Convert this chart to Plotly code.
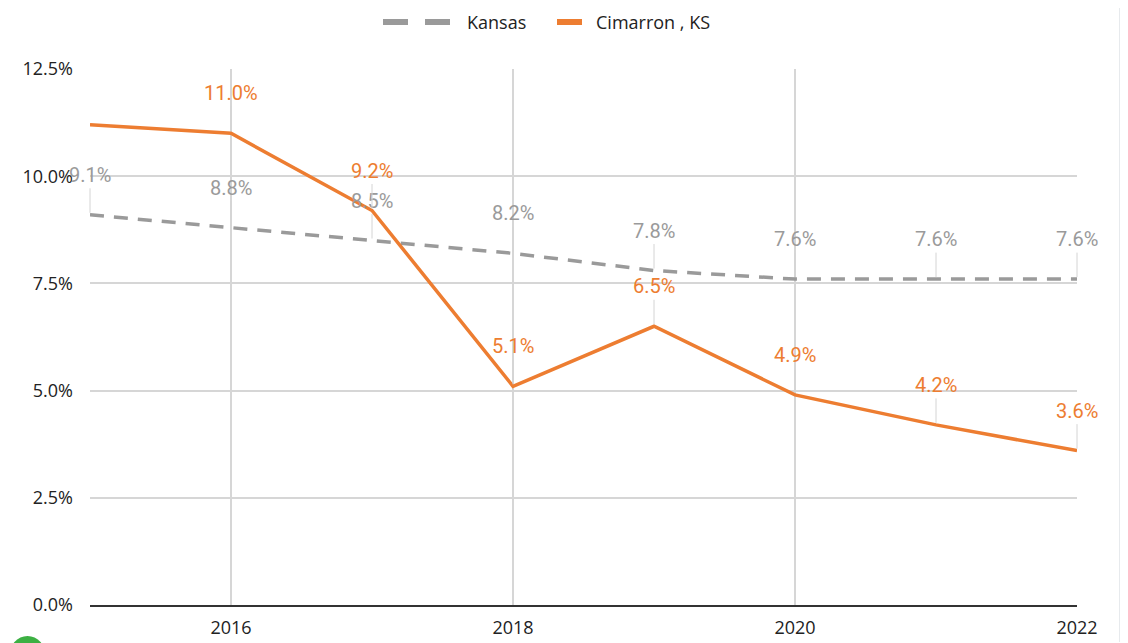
import plotly.graph_objects as go

years = [2015, 2016, 2017, 2018, 2019, 2020, 2021, 2022]
kansas = [9.1, 8.8, 8.5, 8.2, 7.8, 7.6, 7.6, 7.6]
cimarron = [11.2, 11.0, 9.2, 5.1, 6.5, 4.9, 4.2, 3.6]
cimarron_label_shown = [False, True, True, True, True, True, True, True]
y_ticks = [0, 2.5, 5, 7.5, 10, 12.5]
x_ticks = [2016, 2018, 2020, 2022]

GRAY = "#9a9a9a"
ORANGE = "#ED7D31"
LEADER = "#d4d4d4"

# page body has an 8px margin, so the figure is drawn offset by (8, 8)
OFF = 8
# desired plot-area pixel geometry on screen
L, R, T, B = 90, 1077, 69, 605
def px(xp):
    return (xp - L) / (R - L)
def py(yp):
    return (B - yp) / (B - T)

fig = go.Figure()
fig.add_trace(go.Scatter(x=years, y=kansas, mode="lines", name="Kansas",
                         line=dict(color=GRAY, width=3.5, dash="14px,10px"),
                         showlegend=False, hoverinfo="skip"))
fig.add_trace(go.Scatter(x=years, y=cimarron, mode="lines", name="Cimarron , KS",
                         line=dict(color=ORANGE, width=3.5),
                         showlegend=False, hoverinfo="skip"))

annots = []
lab_font = dict(family="Roboto, Open Sans, sans-serif", size=20)
for x, v in zip(years, kansas):
    annots.append(dict(x=x, y=v, xref="x", yref="y", text=f"{v:.1f}%",
                       showarrow=True, arrowhead=0, arrowwidth=1, arrowcolor=LEADER,
                       ax=0, ay=-40, standoff=2, font=dict(color=GRAY, **lab_font)))
for x, v, show in zip(years, cimarron, cimarron_label_shown):
    if not show:
        continue
    annots.append(dict(x=x, y=v, xref="x", yref="y", text=f"{v:.1f}%",
                       showarrow=True, arrowhead=0, arrowwidth=1, arrowcolor=LEADER,
                       ax=0, ay=-40, standoff=2, font=dict(color=ORANGE, **lab_font)))

# custom legend
leg_y = py(22)
leg_font = dict(family="Open Sans, sans-serif", size=18, color="#222222")
annots.append(dict(x=px(465), y=leg_y, xref="paper", yref="paper", text="Kansas",
                   showarrow=False, xanchor="left", yanchor="middle", font=leg_font))
annots.append(dict(x=px(594), y=leg_y, xref="paper", yref="paper", text="Cimarron , KS",
                   showarrow=False, xanchor="left", yanchor="middle", font=leg_font))

shapes = [
    dict(type="line", xref="paper", yref="paper", x0=px(383), x1=px(408), y0=leg_y, y1=leg_y,
         line=dict(color=GRAY, width=6)),
    dict(type="line", xref="paper", yref="paper", x0=px(425), x1=px(450), y0=leg_y, y1=leg_y,
         line=dict(color=GRAY, width=6)),
    dict(type="line", xref="paper", yref="paper", x0=px(557), x1=px(582), y0=leg_y, y1=leg_y,
         line=dict(color=ORANGE, width=6)),
    # right border of the frame
    dict(type="line", xref="paper", yref="paper", x0=px(1121), x1=px(1121), y0=py(8), y1=py(642),
         line=dict(color="#9eaab8", width=2.5), layer="above"),
    # small green badge at bottom-left corner
    dict(type="circle", xref="paper", yref="paper", x0=px(9), x1=px(46), y0=py(677), y1=py(636),
         fillcolor="#3cb043", line=dict(width=0)),
]

fig.update_layout(
    width=1128, height=643,
    margin=dict(l=L - OFF, r=1128 - (R - OFF), t=T - OFF, b=643 - (B - OFF), autoexpand=False),
    paper_bgcolor="white", plot_bgcolor="white",
    annotations=annots, shapes=shapes,
    showlegend=False,
    font=dict(family="Open Sans, sans-serif", size=18, color="#222222"),
)
fig.update_xaxes(range=[2015, 2022], tickvals=x_ticks, ticktext=[str(t) for t in x_ticks],
                 showgrid=True, gridcolor="#d6d6d6", gridwidth=1.5,
                 showline=True, linecolor="#333333", linewidth=1.5,
                 zeroline=False, ticks="", ticklabelstandoff=6, automargin=False,
                 tickfont=dict(family="Open Sans, sans-serif", size=18, color="#222222"))
fig.update_yaxes(range=[0, 12.5], tickvals=y_ticks, ticktext=[f"{t:.1f}%" for t in y_ticks],
                 showgrid=True, gridcolor="#d6d6d6", gridwidth=1.5,
                 zeroline=False, showline=False, ticks="", ticklabelstandoff=16, automargin=False,
                 tickfont=dict(family="Open Sans, sans-serif", size=18, color="#222222"))

fig.write_html("out.html")
